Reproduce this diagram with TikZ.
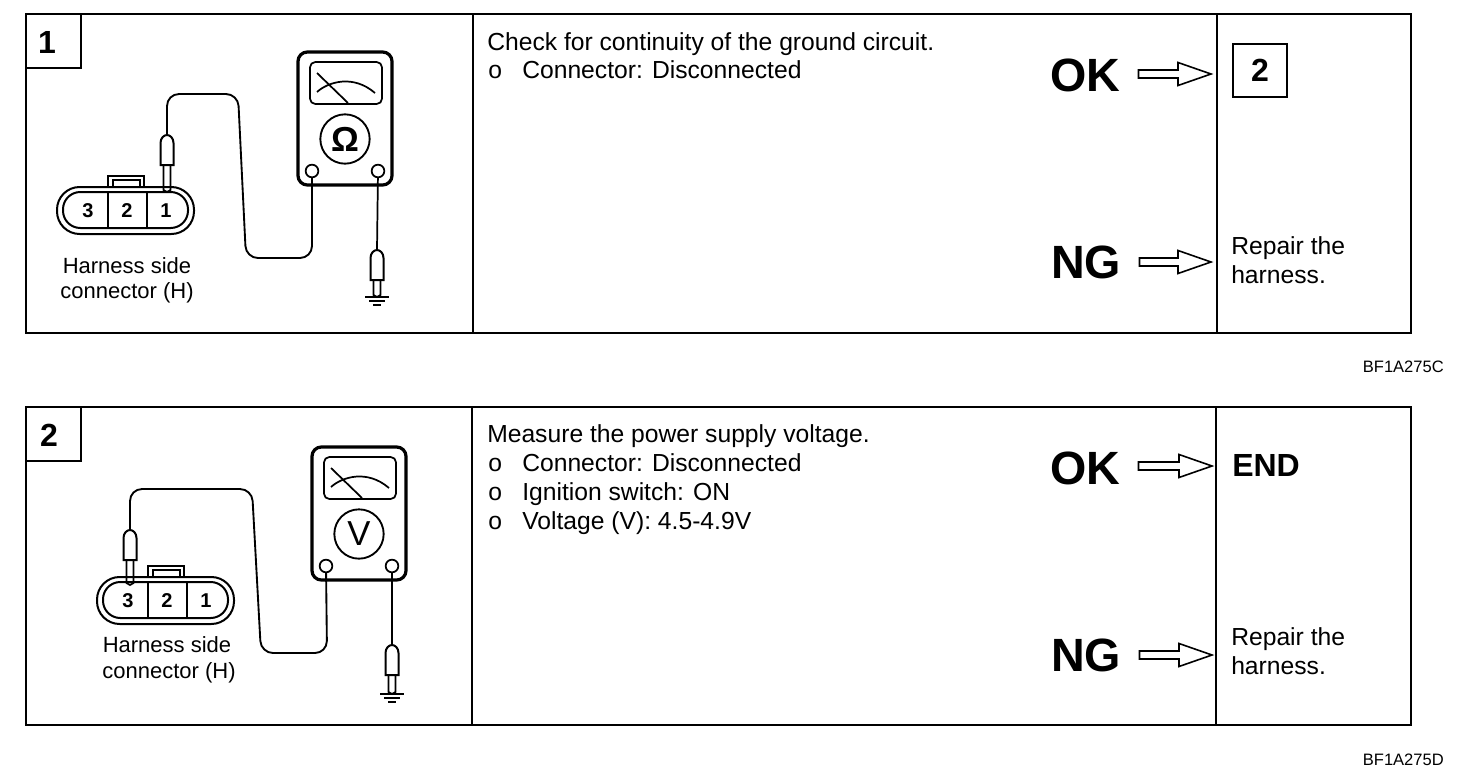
\documentclass[tikz,border=0pt]{standalone}
\usepackage{fontspec}
\setmainfont{Liberation Sans}
\usetikzlibrary{calc}
\tikzset{
    panel/.style={line width=1.7pt},
    wire/.style={line width=1.4pt, rounded corners=9pt},
    thin part/.style={line width=1.3pt},
    body/.style={anchor=base west, inner sep=0pt, font=\fontsize{18.5}{20}\selectfont},
    small/.style={anchor=base, inner sep=0pt, font=\fontsize{16.5}{20}\selectfont},
    pinno/.style={inner sep=0pt, font=\fontsize{15}{18}\bfseries\selectfont},
    stepnum/.style={anchor=base, inner sep=0pt, font=\fontsize{24}{28}\bfseries\selectfont},
    verdict/.style={anchor=base west, inner sep=0pt, font=\fontsize{35}{40}\bfseries\selectfont},
    caption/.style={anchor=base east, inner sep=0pt, font=\fontsize{12.4}{14}\selectfont},
    blockarrow/.style={line width=1.2pt, to path={
        ($(\tikztostart |- \tikztotarget)+(18,-4)$) -- ($(\tikztotarget)+(-33,-4)$)
        -- ($(\tikztotarget)+(-33,-11.5)$) -- (\tikztotarget)
        -- ($(\tikztotarget)+(-33,11.5)$) -- ($(\tikztotarget)+(-33,4)$)
        -- ($(\tikztostart |- \tikztotarget)+(18,4)$) -- cycle}},
    % Origin at the top left corner of the tester
    meter/.pic={
        \draw[line width=2.4pt, rounded corners=7pt] (0,0) rectangle (94,133);
        \draw[thin part, rounded corners=4pt] (12,10) rectangle (84,52);
        \draw[thin part] (19,21) -- (50,51);
        \draw[thin part] (19,40) .. controls (30,30) and (55,22) .. (77,41);
        \node[draw, circle, line width=1.4pt, minimum size=37pt, inner sep=0pt,
            font=\fontsize{26}{28}\selectfont] (-dial) at (47,87) {#1};
        \node[draw, circle, thin part, minimum size=9.5pt, inner sep=0pt] (-left) at (14,119) {};
        \node[draw, circle, thin part, minimum size=9.5pt, inner sep=0pt] (-right) at (80,119) {};
    },
    % Origin at the top of the probe
    probe/.pic={
        \draw[thin part] (-3.5,30) -- (-3.5,#1) -- (0,#1+2) -- (3.5,#1) -- (3.5,30);
        \draw[line width=1.5pt, fill=white] (-6.5,30) -- (-6.5,8) .. controls (-6.5,3) and (-3,0) .. (0,0)
            .. controls (3,0) and (6.5,3) .. (6.5,8) -- (6.5,30) -- cycle;
        \coordinate (-top) at (0,0);
        \coordinate (-tip) at (0,#1+2);
    },
    earth/.pic={
        \draw[thin part] (-12,0) -- (12,0);
        \draw[thin part] (-8,4) -- (8,4);
        \draw[thin part] (-4,8) -- (4,8);
    },
    % Origin at the top left corner of the housing
    plug/.pic={
        \draw[thin part] (51,0) -- (51,-11) -- (87,-11) -- (87,0);
        \draw[thin part] (56,0) -- (56,-7) -- (83,-7) -- (83,0);
        \draw[line width=1.5pt, rounded corners=17pt] (0,0) rectangle (137,47);
        \draw[line width=1.5pt, rounded corners=13pt] (6,5) rectangle (131,41);
        \draw[thin part] (51,5) -- (51,41);
        \draw[thin part] (90,5) -- (90,41);
        \node[pinno] (-three) at (31,24) {3};
        \node[pinno] (-two) at (70,24) {2};
        \node[pinno] (-one) at (109,24) {1};
    }
}
\begin{document}
\begin{tikzpicture}[x=0.75pt, y=-0.75pt]
    \useasboundingbox (0,0) rectangle (1472,782);

    % Frames
    \draw[panel] (26,14) rectangle (1411,333);
    \draw[panel] (473,14) -- (473,333);
    \draw[panel] (1217,14) -- (1217,333);
    \draw[panel] (26,68) -| (81,14);
    \draw[panel] (26,407) rectangle (1411,725);
    \draw[panel] (472,407) -- (472,725);
    \draw[panel] (1216,407) -- (1216,725);
    \draw[panel] (26,461) -| (81,407);
    \node[stepnum] (stepA) at (47,53) {1};
    \node[stepnum] (stepB) at (49,446) {2};

    % First test
    \pic (plugA) at (57,187) {plug};
    \pic (meterA) at (298,52) {meter={\bfseries Ω}};
    \pic (probeA) at (167,135) {probe=55};
    \pic (probeB) at (377,250) {probe=45};
    \pic at (probeB-tip) {earth};
    \draw[wire] (meterA-left) -- (312,258) -- (246,258) -- (238,94) -- (167,94) -- (probeA-top);
    \draw[thin part] (meterA-right) -- (probeB-top);
    \node[small] (sideA) at (127,273) {Harness side};
    \node[small] (connA) at (127,298) {connector (H)};

    % Second test
    \pic (plugB) at (97,577) {plug};
    \pic (meterB) at (312,447) {meter={V}};
    \pic (probeC) at (130,530) {probe=53};
    \pic (probeD) at (392,645) {probe=47};
    \pic at (probeD-tip) {earth};
    \draw[wire] (meterB-left) -- (327,653) -- (261,653) -- (252,489) -- (130,489) -- (probeC-top);
    \draw[thin part] (meterB-right) -- (probeD-top);
    \node[small] (sideB) at (167,652) {Harness side};
    \node[small] (connB) at (169,678) {connector (H)};

    % Instructions
    \node[body] (checkA) at (487,50) {Check for continuity of the ground circuit.};
    \node[body] (dotA) at (488,78) {o};
    \node[body] (itemA) at (522,78) {Connector: Disconnected};
    \node[body] (checkB) at (487,442) {Measure the power supply voltage.};
    \node[body] (dotB) at (488,471) {o};
    \node[body] (itemB) at (522,471) {Connector: Disconnected};
    \node[body] (dotC) at (488,500) {o};
    \node[body] (itemC) at (522,500) {Ignition switch: ON};
    \node[body] (dotD) at (488,529) {o};
    \node[body] (itemD) at (522,529) {Voltage (V): 4.5-4.9V};

    % Results
    \node[verdict] (okA) at (1050,91) {OK};
    \node[verdict] (ngA) at (1051,278) {NG};
    \node[verdict] (okB) at (1050,484) {OK};
    \node[verdict] (ngB) at (1051,671) {NG};
    \node[draw, panel, minimum size=40pt, inner sep=0pt, font=\fontsize{24}{28}\bfseries\selectfont] (next) at (1260,70.5) {2};
    \node[body] (repairA) at (1231,254) {Repair the};
    \node[body] (harnA) at (1231,283) {harness.};
    \node[stepnum, anchor=base west] (done) at (1232,476) {END};
    \node[body] (repairB) at (1231,645) {Repair the};
    \node[body] (harnB) at (1231,674) {harness.};
    \coordinate (tipA) at (1211,74);
    \coordinate (tipB) at (1211,262);
    \coordinate (tipC) at (1212,466);
    \coordinate (tipD) at (1212,655);
    \draw[blockarrow] (okA.east) to (tipA);
    \draw[blockarrow] (ngA.east) to (tipB);
    \draw[blockarrow] (okB.east) to (tipC);
    \draw[blockarrow] (ngB.east) to (tipD);

    % Figure codes
    \node[caption] (codeA) at (1444,372) {BF1A275C};
    \node[caption] (codeB) at (1444,765) {BF1A275D};
\end{tikzpicture}
\end{document}
